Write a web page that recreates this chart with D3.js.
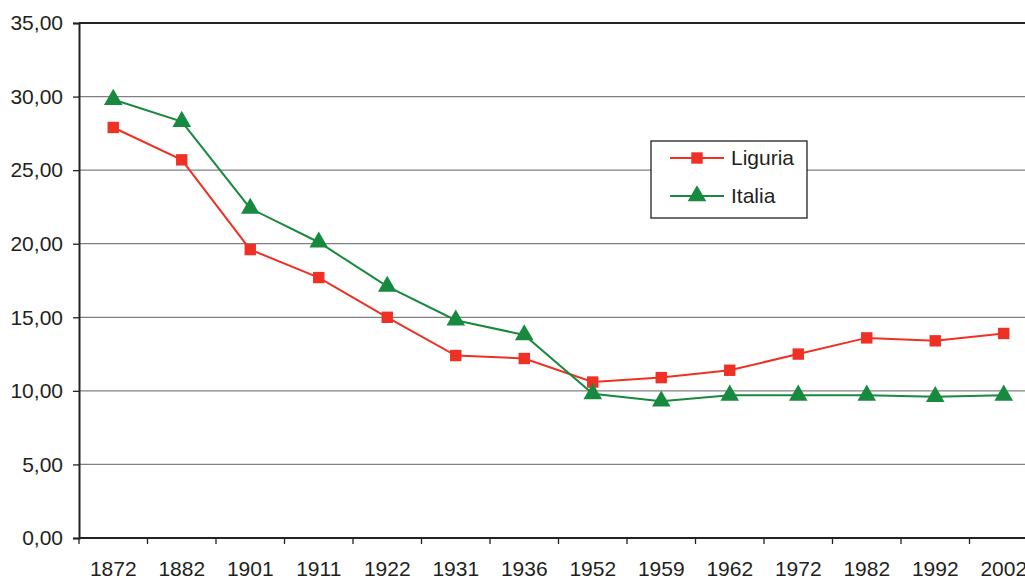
<!DOCTYPE html>
<html>
<head>
<meta charset="utf-8">
<script src="https://cdn.jsdelivr.net/npm/d3@7/dist/d3.min.js"></script>
<style>
  body { margin: 0; background: #fff; }
  svg { display: block; font-family: "Liberation Sans", Arial, sans-serif; }
</style>
</head>
<body>
<div id="chart"></div>
<script>
// anni dei censimenti
const years = ['1872', '1882', '1901', '1911', '1922', '1931', '1936', '1952', '1959', '1962', '1972', '1982', '1992', '2002'];
// valori
const liguria = [27.9, 25.7, 19.6, 17.7, 15.0, 12.4, 12.2, 10.6, 10.9, 11.4, 12.5, 13.6, 13.4, 13.9];
const italia = [29.8, 28.3, 22.4, 20.1, 17.1, 14.8, 13.8, 9.8, 9.3, 9.7, 9.7, 9.7, 9.6, 9.7];
const yTicks = [0, 5, 10, 15, 20, 25, 30, 35];

const width = 1025, height = 580;
const plotLeft = 79, plotTop = 23, plotBottom = 538;

const svg = d3.select('#chart').append('svg')
    .attr('width', width)
    .attr('height', height);

// il grafico originale è tagliato a destra
const x = d3.scaleBand().domain(years).range([plotLeft, plotLeft + 68.5 * years.length]);
const y = d3.scaleLinear().domain([0, 35]).range([plotBottom, plotTop]);

// griglia
svg.append('g')
    .selectAll('line')
    .data(yTicks.filter(d => d > 0 && d < 35))
    .enter()
    .append('line')
    .attr('x1', plotLeft).attr('x2', width)
    .attr('y1', d => y(d)).attr('y2', d => y(d))
    .attr('stroke', '#808080')
    .attr('stroke-width', 1.3);

// bordo superiore
svg.append('line')
    .attr('x1', plotLeft).attr('x2', width)
    .attr('y1', y(35)).attr('y2', y(35))
    .attr('stroke', '#222').attr('stroke-width', 2);

// asse y
const yAxis = svg.append('g')
    .attr('transform', `translate(${plotLeft},0)`)
    .call(d3.axisLeft(y).tickValues(yTicks).tickSize(6).tickPadding(10)
        .tickFormat(d => d3.format('.2f')(d).replace('.', ',')));
yAxis.select('.domain').attr('stroke', '#222').attr('stroke-width', 2);
yAxis.selectAll('.tick line').attr('stroke', '#222').attr('stroke-width', 1.3);
yAxis.selectAll('text').style('font-size', '21px').style('fill', '#231f20');

// asse x: tacche ai bordi delle bande
const xAxis = svg.append('g').attr('transform', `translate(0,${plotBottom})`);
xAxis.append('line')
    .attr('x1', plotLeft).attr('x2', width)
    .attr('y1', 0).attr('y2', 0)
    .attr('stroke', '#222').attr('stroke-width', 2);
xAxis.selectAll('line.tick')
    .data(years)
    .enter()
    .append('line')
    .attr('class', 'tick')
    .attr('x1', d => x(d)).attr('x2', d => x(d))
    .attr('y1', 0).attr('y2', 6)
    .attr('stroke', '#222').attr('stroke-width', 1.3);
xAxis.selectAll('text')
    .data(years)
    .enter()
    .append('text')
    .attr('x', d => x(d) + x.bandwidth() / 2)
    .attr('y', 38)
    .attr('text-anchor', 'middle')
    .style('font-size', '21px')
    .style('fill', '#231f20')
    .text(d => d);

const cx = (d, i) => x(years[i]) + x.bandwidth() / 2;
const line = d3.line().x((d, i) => cx(d, i)).y(d => y(d));

const series = [
    { name: 'Liguria', values: liguria, color: '#ee3124', marker: d3.symbolSquare, size: 130 },
    { name: 'Italia', values: italia, color: '#188a3f', marker: d3.symbolTriangle, size: 150 }
];

series.forEach(s => {
    svg.append('path')
        .datum(s.values)
        .attr('fill', 'none')
        .attr('stroke', s.color)
        .attr('stroke-width', 2)
        .attr('d', line);
    svg.append('g')
        .selectAll('path')
        .data(s.values)
        .enter()
        .append('path')
        .attr('transform', (d, i) => `translate(${cx(d, i)},${y(d)})`)
        .attr('d', d3.symbol().type(s.marker).size(s.size))
        .attr('fill', s.color);
});

// legenda
const legend = svg.append('g').attr('transform', 'translate(651,141)');
legend.append('rect')
    .attr('width', 156).attr('height', 77)
    .attr('fill', '#fff')
    .attr('stroke', '#222').attr('stroke-width', 1.3);
series.forEach((s, i) => {
    const ly = 17 + i * 38;
    const row = legend.append('g').attr('transform', `translate(0,${ly})`);
    row.append('line')
        .attr('x1', 19).attr('x2', 73)
        .attr('stroke', s.color).attr('stroke-width', 2);
    row.append('path')
        .attr('transform', 'translate(46,0)')
        .attr('d', d3.symbol().type(s.marker).size(s.size))
        .attr('fill', s.color);
    row.append('text')
        .attr('x', 80).attr('y', 7)
        .style('font-size', '21px')
        .style('fill', '#231f20')
        .text(s.name);
});
</script>
</body>
</html>
